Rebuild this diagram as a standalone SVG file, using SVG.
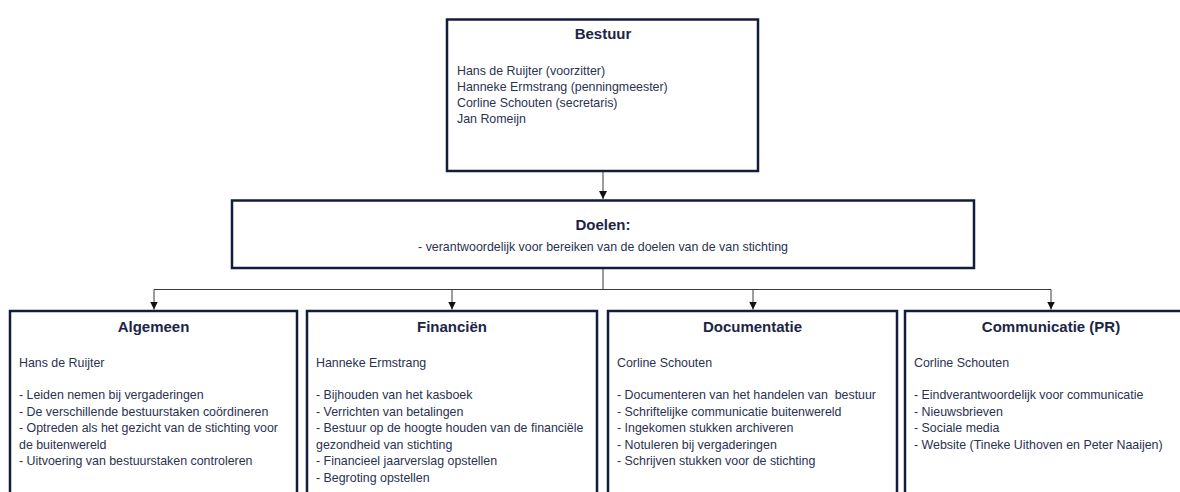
<svg xmlns="http://www.w3.org/2000/svg" width="1180" height="492" viewBox="0 0 1180 492">
<style>
.box{fill:#ffffff;stroke:#131c3b;stroke-width:2.5}
.t{font-family:"Liberation Sans",Arial,sans-serif;font-size:15px;font-weight:bold;fill:#1c2545;text-anchor:middle}
.b{font-family:"Liberation Sans",Arial,sans-serif;font-size:12.4px;fill:#2a3250}
.c{fill:none;stroke:#3a3a3a;stroke-width:1}
</style>
<defs>
<marker id="arr" viewBox="0 0 10 10" refX="10" refY="5" markerWidth="8" markerHeight="8" markerUnits="userSpaceOnUse" orient="auto">
<path d="M0,0 L10,5 L0,10 z" fill="#111111"/>
</marker>
</defs>
<rect width="1180" height="492" fill="#ffffff"/>
<g id="connectors">
<line class="c" x1="603" y1="171" x2="603" y2="199" marker-end="url(#arr)" stroke="#666666"/>
<polyline class="c" points="603,269 603,289.5"/>
<line class="c" x1="154" y1="289.5" x2="1051" y2="289.5"/>
<line class="c" x1="154" y1="289.5" x2="154" y2="309.5" marker-end="url(#arr)"/>
<line class="c" x1="452" y1="289.5" x2="452" y2="309.5" marker-end="url(#arr)"/>
<line class="c" x1="753" y1="289.5" x2="753" y2="309.5" marker-end="url(#arr)"/>
<line class="c" x1="1051" y1="289.5" x2="1051" y2="309.5" marker-end="url(#arr)"/>
</g>
<g id="bestuur">
<rect class="box" x="447" y="19.5" width="311" height="151.5"/>
<text class="t" x="603" y="39">Bestuur</text>
<text class="b" x="457" y="74.5">Hans de Ruijter (voorzitter)</text>
<text class="b" x="457" y="91">Hanneke Ermstrang (penningmeester)</text>
<text class="b" x="457" y="107">Corline Schouten (secretaris)</text>
<text class="b" x="457" y="123">Jan Romeijn</text>
</g>
<g id="doelen">
<rect class="box" x="232" y="200.5" width="742" height="67.5"/>
<text class="t" x="603" y="230">Doelen:</text>
<text class="b" x="603" y="250.5" text-anchor="middle">- verantwoordelijk voor bereiken van de doelen van de van stichting</text>
</g>
<g id="algemeen">
<rect class="box" x="10" y="311" width="287" height="200"/>
<text class="t" x="153.5" y="332">Algemeen</text>
<text class="b" x="19" y="367">Hans de Ruijter</text>
<text class="b" x="19" y="399">- Leiden nemen bij vergaderingen</text>
<text class="b" x="19" y="415.5">- De verschillende bestuurstaken coördineren</text>
<text class="b" x="19" y="432">- Optreden als het gezicht van de stichting voor</text>
<text class="b" x="19" y="448.5">de buitenwereld</text>
<text class="b" x="19" y="465">- Uitvoering van bestuurstaken controleren</text>
</g>
<g id="financien">
<rect class="box" x="307" y="311" width="290" height="200"/>
<text class="t" x="452" y="332">Financiën</text>
<text class="b" x="316" y="367">Hanneke Ermstrang</text>
<text class="b" x="316" y="399">- Bijhouden van het kasboek</text>
<text class="b" x="316" y="415.5">- Verrichten van betalingen</text>
<text class="b" x="316" y="432">- Bestuur op de hoogte houden van de financiële</text>
<text class="b" x="316" y="448.5">gezondheid van stichting</text>
<text class="b" x="316" y="465">- Financieel jaarverslag opstellen</text>
<text class="b" x="316" y="481.5">- Begroting opstellen</text>
</g>
<g id="documentatie">
<rect class="box" x="608" y="311" width="289" height="200"/>
<text class="t" x="752.5" y="332">Documentatie</text>
<text class="b" x="617" y="367">Corline Schouten</text>
<text class="b" x="617" y="399" xml:space="preserve">- Documenteren van het handelen van  bestuur</text>
<text class="b" x="617" y="415.5">- Schriftelijke communicatie buitenwereld</text>
<text class="b" x="617" y="432">- Ingekomen stukken archiveren</text>
<text class="b" x="617" y="448.5">- Notuleren bij vergaderingen</text>
<text class="b" x="617" y="465">- Schrijven stukken voor de stichting</text>
</g>
<g id="communicatie">
<rect class="box" x="905" y="311" width="292" height="200"/>
<text class="t" x="1051" y="332">Communicatie (PR)</text>
<text class="b" x="914" y="367">Corline Schouten</text>
<text class="b" x="914" y="399">- Eindverantwoordelijk voor communicatie</text>
<text class="b" x="914" y="415.5">- Nieuwsbrieven</text>
<text class="b" x="914" y="432">- Sociale media</text>
<text class="b" x="914" y="448.5">- Website (Tineke Uithoven en Peter Naaijen)</text>
</g>
</svg>
